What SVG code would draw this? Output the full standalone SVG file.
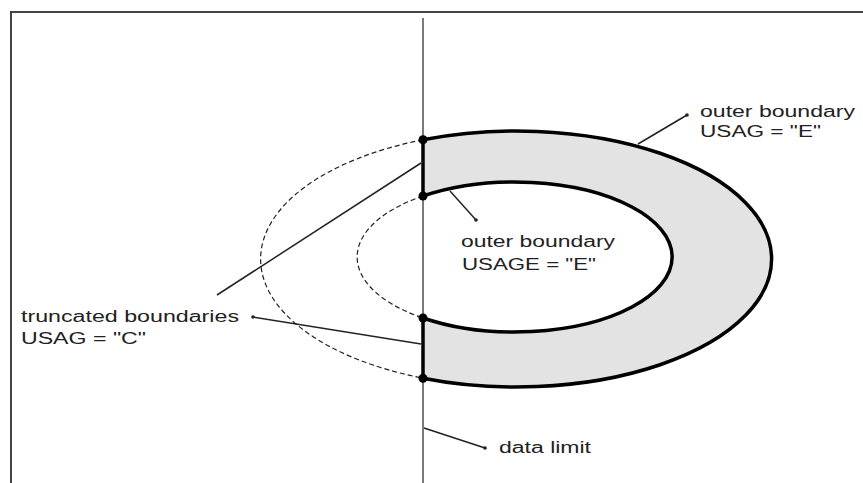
<svg xmlns="http://www.w3.org/2000/svg" width="863" height="483" viewBox="0 0 863 483">
<style>
.frame{stroke:#444;stroke-width:2;fill:none}
.limit{stroke:#7a7a7a;stroke-width:2;fill:none}
.thick{stroke:#000;stroke-width:3.5;fill:none}
.dash{stroke:#222;stroke-width:1.2;fill:none;stroke-dasharray:5 3}
.lead{stroke:#222;stroke-width:1.5;fill:none}
.dot{fill:#000}
.sdot{fill:#222}
text{font-family:"Liberation Sans",Arial,sans-serif;font-size:16px;fill:#222}
</style>
<rect width="863" height="483" fill="#fff"/>
<g id="frame">
<path class="frame" d="M11,483 V12 H863"/>
</g>
<g id="data-limit">
<line class="limit" x1="423" y1="18" x2="423" y2="483"/>
</g>
<g id="outer-polygon">
<path d="M423,139.8 A255.5,128 0 1 1 423,378.2 L423,318 A157.5,75 0 1 0 423,196 Z" fill="#e3e3e3" stroke="none"/>
<path class="dash" d="M423,139.8 A255.5,128 0 0 0 423,378.2"/>
<path class="dash" d="M423,196 A157.5,75 0 0 0 423,318"/>
<path class="thick" d="M423,139.8 A255.5,128 0 1 1 423,378.2"/>
<path class="thick" d="M423,196 A157.5,75 0 1 1 423,318"/>
<line class="thick" x1="423" y1="139.8" x2="423" y2="196"/>
<line class="thick" x1="423" y1="318" x2="423" y2="378.2"/>
<circle class="dot" cx="423" cy="139.8" r="4.5"/>
<circle class="dot" cx="423" cy="196" r="4.5"/>
<circle class="dot" cx="423" cy="318" r="4.5"/>
<circle class="dot" cx="423" cy="378.2" r="4.5"/>
</g>
<g id="connectors">
<line class="lead" x1="687" y1="115" x2="638" y2="144"/>
<circle class="sdot" cx="687" cy="115" r="1.8"/>
<line class="lead" x1="450" y1="191" x2="476" y2="220"/>
<circle class="sdot" cx="476" cy="220" r="1.8"/>
<line class="lead" x1="217" y1="295" x2="421" y2="163"/>
<line class="lead" x1="253" y1="317" x2="421" y2="344"/>
<circle class="sdot" cx="253" cy="317" r="1.8"/>
<line class="lead" x1="424" y1="428" x2="485" y2="448"/>
<circle class="sdot" cx="485" cy="448" r="1.8"/>
</g>
<g id="label-outer-e">
<text x="700" y="117" textLength="155" lengthAdjust="spacingAndGlyphs">outer boundary</text>
<text x="700" y="137" textLength="121" lengthAdjust="spacingAndGlyphs">USAG = "E"</text>
</g>
<g id="label-inner-e">
<text x="461" y="247" textLength="154" lengthAdjust="spacingAndGlyphs">outer boundary</text>
<text x="462" y="270" textLength="134" lengthAdjust="spacingAndGlyphs">USAGE = "E"</text>
</g>
<g id="label-truncated">
<text x="21" y="322" textLength="218" lengthAdjust="spacingAndGlyphs">truncated boundaries</text>
<text x="21" y="344" textLength="125" lengthAdjust="spacingAndGlyphs">USAG = "C"</text>
</g>
<g id="label-data-limit">
<text x="499" y="453" textLength="92" lengthAdjust="spacingAndGlyphs">data limit</text>
</g>
</svg>
